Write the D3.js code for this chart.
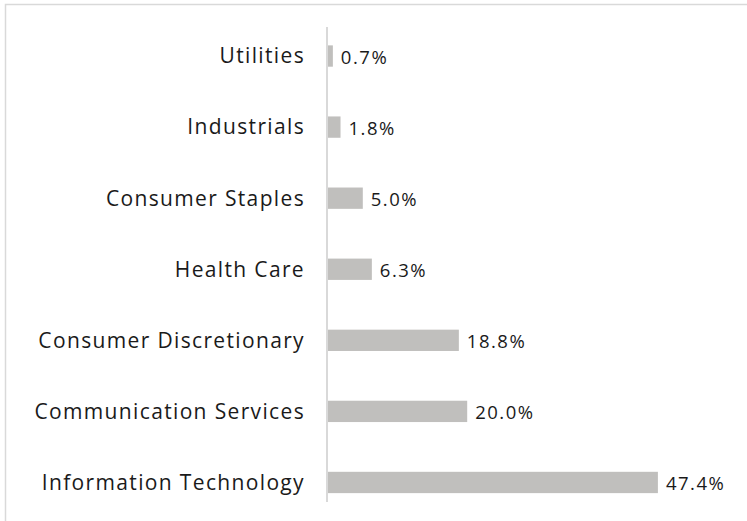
<!DOCTYPE html>
<html><head><meta charset="utf-8">
<script src="https://cdn.jsdelivr.net/npm/d3@7"></script>
<style>html,body{margin:0;padding:0;background:#fff;}svg{display:block;}</style>
</head><body>
<svg id="chart" width="747" height="521"></svg>
<script>
const categories = ["Utilities","Industrials","Consumer Staples","Health Care","Consumer Discretionary","Communication Services","Information Technology"];
const values = [0.7, 1.8, 5.0, 6.3, 18.8, 20.0, 47.4];
const valueLabels = ["0.7%","1.8%","5.0%","6.3%","18.8%","20.0%","47.4%"];

const svg = d3.select("#chart");
const font = "'Open Sans', sans-serif";

svg.append("rect").attr("x",5.5).attr("y",4.5).attr("width",760).attr("height",530)
  .attr("fill","#fff").attr("stroke","#d9d9d9").attr("stroke-width",1.5);

const y = d3.scaleBand().domain(categories).range([20.5, 518]).paddingInner(0.7).paddingOuter(0.35);
const x = d3.scaleLinear().domain([0, 50]).range([328, 676]);

svg.append("g").selectAll("rect").data(categories).join("rect")
  .attr("x", x(0))
  .attr("y", d => y(d))
  .attr("width", (d,i) => x(values[i]) - x(0))
  .attr("height", y.bandwidth())
  .attr("fill", "#c0bfbd");

svg.append("line").attr("x1",327).attr("x2",327).attr("y1",27).attr("y2",502)
  .attr("stroke","#d9d9d9").attr("stroke-width",2);

svg.append("g").selectAll("text").data(categories).join("text")
  .attr("x", 305)
  .attr("y", d => y(d) + y.bandwidth()/2)
  .attr("dy","0.35em")
  .attr("text-anchor","end")
  .attr("font-family", font).attr("font-size", 21)
  .attr("letter-spacing", 1.35)
  .attr("fill","#1a1a1a")
  .text(d => d);

svg.append("g").selectAll("text").data(categories).join("text")
  .attr("x", (d,i) => x(values[i]) + 8)
  .attr("y", d => y(d) + y.bandwidth()/2)
  .attr("dy","0.43em")
  .attr("font-family", font).attr("font-size", 18.5)
  .attr("letter-spacing", 1.5)
  .attr("fill","#1a1a1a")
  .text((d,i) => valueLabels[i]);
</script>
</body></html>
